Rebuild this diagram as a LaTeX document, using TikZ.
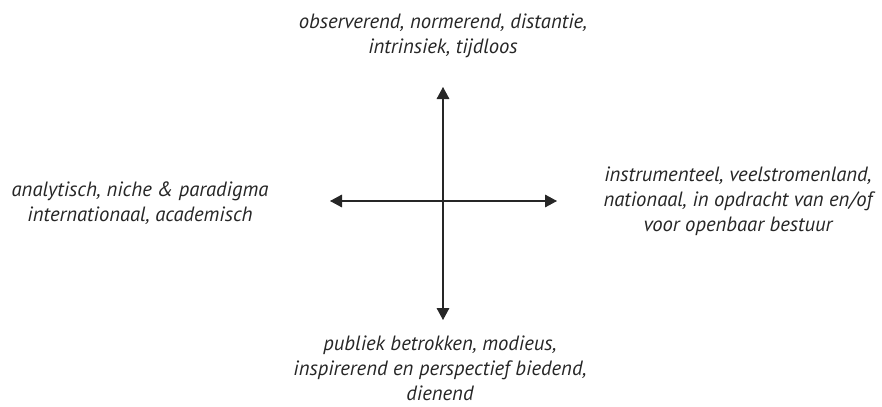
\documentclass[tikz,border=0pt]{standalone}
\usepackage{fontspec}
\setmainfont{PT Sans}
\usepackage{xcolor}
\usepackage{tikz}
\usetikzlibrary{arrows.meta}

\begin{document}
\begin{tikzpicture}[x=0.75pt,y=-0.75pt,
        label/.style={align=center,inner sep=0pt,text=black!85,
                      font=\itshape\fontsize{15.5}{18.8}\selectfont},
        axis/.style={line width=0.8pt,black!85,
                     {Triangle[length=9pt,width=9.5pt]}-{Triangle[length=9pt,width=9.5pt]}}]
        \useasboundingbox (0,0) rectangle (882,407);

        \coordinate (up)  at (443,87);
        \coordinate (dn)  at (443,320);
        \coordinate (lft) at (330,201);
        \coordinate (rgt) at (557,201);

        \node[label] (observe)    at (443,36)  {observerend, normerend, distantie,\\intrinsiek, tijdloos};
        \node[label] (analyse)    at (140,203) {analytisch, niche \& paradigma\\internationaal, academisch};
        \node[label] (instrument) at (738,201) {instrumenteel, veelstromenland,\\nationaal, in opdracht van en/of\\voor openbaar bestuur};
        \node[label] (publiek)    at (440,368) {publiek betrokken, modieus,\\inspirerend en perspectief biedend,\\dienend};

        \draw[axis] (up) -- (dn);
        \draw[axis] (lft) -- (rgt);
    \end{tikzpicture}
\end{document}
